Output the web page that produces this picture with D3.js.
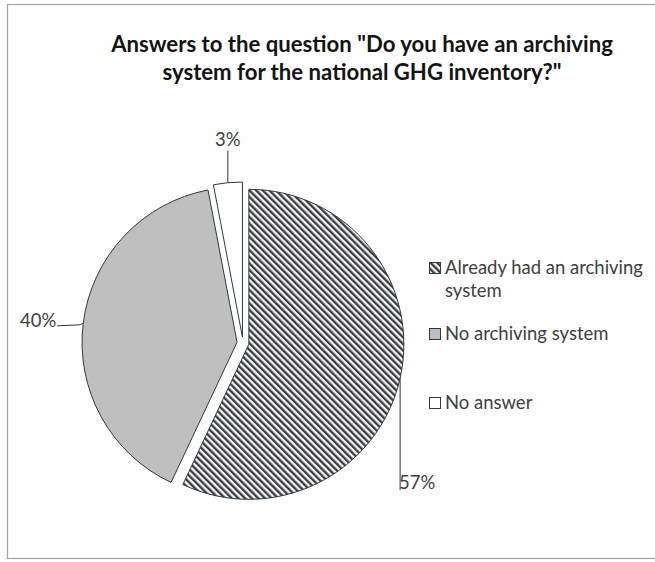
<!DOCTYPE html>
<html>
<head>
<meta charset="utf-8">
<script src="https://cdn.jsdelivr.net/npm/d3@7"></script>
<style>
  html, body { margin: 0; padding: 0; background: #ffffff; }
  svg { display: block; }
</style>
</head>
<body>
<svg id="chart" width="655" height="562"></svg>
<script>
// Survey answers
const categories = ["Already had an archiving system", "No archiving system", "No answer"];
const shares = [57, 40, 3];
const legendLines = [["Already had an archiving", "system"], ["No archiving system"], ["No answer"]];
const titleLines = ["Answers to the question \"Do you have an archiving", "system for the national GHG inventory?\""];

const W = 655, H = 562;
const FONT = "Lato, 'Open Sans', sans-serif";
const svg = d3.select("#chart");

// Hatch pattern for the first category
const defs = svg.append("defs");
const pat = defs.append("pattern")
  .attr("id", "hatch")
  .attr("patternUnits", "userSpaceOnUse")
  .attr("width", 4.7).attr("height", 4.7)
  .attr("patternTransform", "rotate(-45)");
pat.append("rect").attr("width", 4.7).attr("height", 4.7).attr("fill", "#fdf4f1");
pat.append("line").attr("x1", 1.2).attr("y1", -1).attr("x2", 1.2).attr("y2", 6)
  .attr("stroke", "#2e3b40").attr("stroke-width", 2.3);

const fills = ["url(#hatch)", "#bfbfbf", "#ffffff"];

// Chart frame
svg.append("rect")
  .attr("x", 7.5).attr("y", 4.5).attr("width", 700).attr("height", 554)
  .attr("fill", "#fefefe").attr("stroke", "#9ea6ad").attr("stroke-width", 1.2);

// Helper: fit a font size so that a string spans a given width
function fitSize(str, targetWidth, weight) {
  const t = svg.append("text").attr("font-family", FONT).attr("font-weight", weight)
    .attr("font-size", 100).text(str);
  const w = t.node().getComputedTextLength();
  t.remove();
  return 100 * targetWidth / w;
}

// Title
const titleSize = fitSize(titleLines[0], 502, "bold");
const titleY = [52, 80];
titleLines.forEach((line, i) => {
  svg.append("text")
    .attr("x", 362).attr("y", titleY[i])
    .attr("text-anchor", "middle")
    .attr("font-family", FONT).attr("font-weight", "bold")
    .attr("font-size", titleSize)
    .attr("fill", "#141414")
    .text(line);
});

// Pie
const cx = 243, cy = 343, r = 155, explode = 6;
const pie = d3.pie().sort(null).value(d => d)(shares);
const arc = d3.arc().innerRadius(0).outerRadius(r);

const slices = svg.append("g").attr("transform", `translate(${cx},${cy})`);
pie.forEach((p, i) => {
  const mid = (p.startAngle + p.endAngle) / 2;
  const ox = Math.sin(mid) * explode, oy = -Math.cos(mid) * explode;
  p.offset = [ox, oy];
  slices.append("path")
    .attr("d", arc(p))
    .attr("transform", `translate(${ox},${oy})`)
    .attr("fill", fills[i])
    .attr("stroke", "#2b3a3f")
    .attr("stroke-width", 1)
    .attr("stroke-linejoin", "miter");
});

// Percentage labels with leader lines
const labelSize = fitSize("Already had an archiving", 198, "normal");
function edgePoint(p) {
  const mid = (p.startAngle + p.endAngle) / 2;
  return [cx + p.offset[0] + Math.sin(mid) * r, cy + p.offset[1] - Math.cos(mid) * r];
}
const fmt = v => v + "%";
const leaders = svg.append("g").attr("fill", "none").attr("stroke", "#2b3a3f").attr("stroke-width", 1);
const labels = svg.append("g").attr("font-family", FONT).attr("font-size", labelSize).attr("fill", "#404040");

// 57 %: vertical leader down to the label
{
  const p = pie[0], e = edgePoint(p);
  leaders.append("path").attr("d", `M${e[0]},${e[1]}V${e[1] + 112}`);
  labels.append("text").attr("x", e[0] - 1).attr("y", e[1] + 111).text(fmt(shares[0]));
}
// 40 %: short leader to the left
{
  const p = pie[1], e = edgePoint(p);
  leaders.append("path").attr("d", `M${e[0]},${e[1]}L${e[0] - 3},${e[1] + 2}L${e[0] - 26},${e[1] + 3}`);
  labels.append("text").attr("x", e[0] - 27).attr("y", e[1] + 4).attr("text-anchor", "end").text(fmt(shares[1]));
}
// 3 %: vertical leader up to the label
{
  const p = pie[2], e = edgePoint(p);
  leaders.append("path").attr("d", `M${e[0]},${e[1]}V${e[1] - 32}`);
  labels.append("text").attr("x", e[0]).attr("y", e[1] - 37).attr("text-anchor", "middle").text(fmt(shares[2]));
}

// Legend
const legendX = 429;
const rowTop = [262, 328, 397];
const legend = svg.append("g").attr("font-family", FONT).attr("font-size", labelSize).attr("fill", "#404040");
categories.forEach((c, i) => {
  legend.append("rect")
    .attr("x", legendX + 0.5).attr("y", rowTop[i] + 0.5)
    .attr("width", 11).attr("height", 11)
    .attr("fill", fills[i]).attr("stroke", "#2b3a3f").attr("stroke-width", 1);
  legendLines[i].forEach((ln, j) => {
    legend.append("text")
      .attr("x", legendX + 16).attr("y", rowTop[i] + 12 + j * 23)
      .text(ln);
  });
});
</script>
</body>
</html>
